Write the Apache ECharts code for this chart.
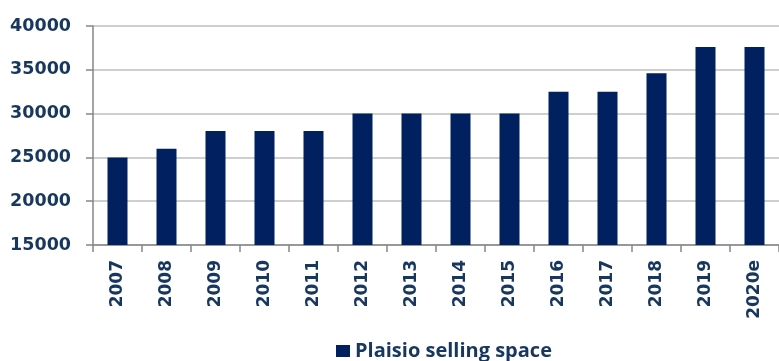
<!DOCTYPE html>
<html>
<head>
<meta charset="utf-8">
<script src="https://cdn.jsdelivr.net/npm/echarts@6/dist/echarts.min.js"></script>
<style>
html,body{margin:0;padding:0;background:#fff;}
#chart{width:779px;height:361px;}
</style>
</head>
<body>
<div id="chart"></div>
<script>
const categories = ['2007','2008','2009','2010','2011','2012','2013','2014','2015','2016','2017','2018','2019','2020e'];
const sellingSpace = [25000,26000,28000,28000,28000,30000,30000,30000,30000,32500,32500,34600,37600,37600];
const seriesName = 'Plaisio selling space';
const yMin = 15000, yMax = 40000, yStep = 5000;

const textColor = '#17375E';
const chart = echarts.init(document.getElementById('chart'), null, {renderer:'canvas'});
chart.setOption({
  animation:false,
  backgroundColor:'#fff',
  grid:{left:93, top:26, width:697, height:219, containLabel:false},
  legend:{
    data:[seriesName],
    left:331, top:336,
    icon:'rect', itemWidth:14, itemHeight:12, itemGap:6,
    textStyle:{color:textColor, fontFamily:'Open Sans', fontWeight:'bold', fontSize:20}
  },
  xAxis:{
    type:'category', data:categories,
    axisLine:{lineStyle:{color:'#868686', width:1.5}},
    axisTick:{show:true, length:7, alignWithLabel:false, lineStyle:{color:'#868686', width:1.5}},
    axisLabel:{rotate:90, margin:15, interval:0, color:textColor, fontFamily:'DejaVu Sans', fontWeight:'bold', fontSize:17}
  },
  yAxis:{
    type:'value', min:yMin, max:yMax, interval:yStep,
    axisLine:{show:true, lineStyle:{color:'#868686', width:1.5}},
    axisTick:{show:true, length:7, lineStyle:{color:'#868686', width:1.5}},
    splitLine:{lineStyle:{color:'#BFBFBF', width:1.5}},
    axisLabel:{margin:22, color:textColor, fontFamily:'DejaVu Sans', fontWeight:'bold', fontSize:17.5,
      formatter:function(v){return String(v);}}
  },
  series:[{
    name:seriesName, type:'bar', data:sellingSpace, barWidth:20,
    itemStyle:{color:'#002060'}
  }]
});
</script>
</body>
</html>
